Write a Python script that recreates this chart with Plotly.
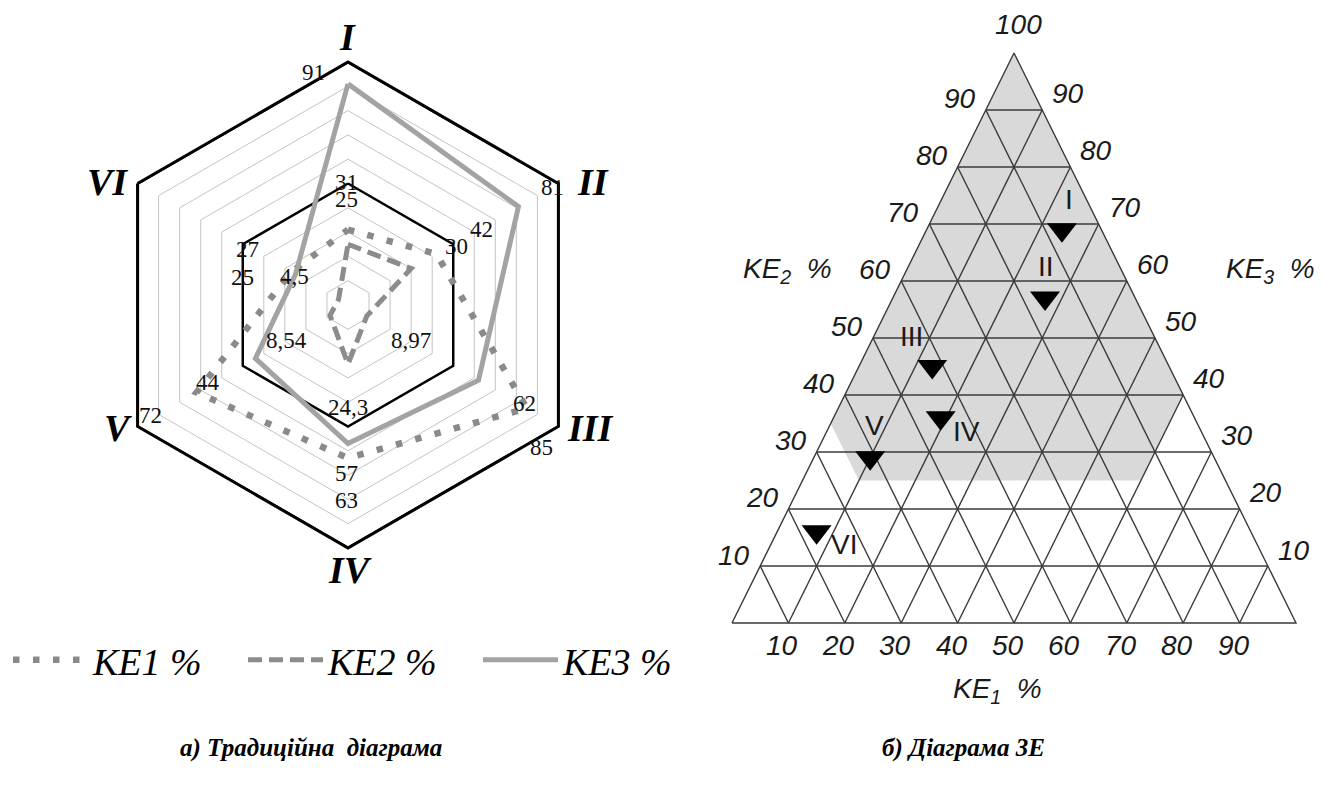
import plotly.graph_objects as go

# ---------------- radar chart data ----------------
objects = ["I", "II", "III", "IV", "V", "VI"]
ke1 = [31, 42, 85, 63, 72, 27]
ke2 = [25, 30, 8.97, 24.3, 8.54, 4.5]
ke3 = [91, 81, 62, 57, 44, 25]
radial_ticks = [10, 20, 30, 40, 50, 60, 70, 80, 90, 100]
major_rings = [50, 100]

# ---------------- 3E triangle data (top / left / right shares, %) ----------------
point_names = ["I", "II", "III", "IV", "V", "VI"]
tern_top = [69, 57, 45, 36, 29, 16]
tern_left = [7, 16, 42, 45, 61, 77]
tern_right = [24, 27, 13, 19, 10, 7]
zone_top = [100, 40, 25, 25, 35]
zone_left = [0, 0, 15, 65, 65]
zone_right = [0, 60, 60, 10, 0]
grid_levels = [10, 20, 30, 40, 50, 60, 70, 80, 90]

W, H = 1323, 787
SERIF = "Liberation Serif, Times New Roman, serif"
NARROW = "Liberation Sans Narrow, Arial Narrow, Liberation Sans, sans-serif"


def paper(x, y):
    return x / W, 1 - y / H


fig = go.Figure()

# ---------------- radar ----------------
CX, CY, R = 348, 305, 243


def closed(seq):
    return list(seq) + [seq[0]]


theta = closed(objects)
for ring in major_rings:
    fig.add_trace(go.Scatterpolar(
        r=[ring] * len(theta), theta=theta, mode="lines",
        line=dict(color="black", width=3 if ring == 100 else 2.5),
        showlegend=False, hoverinfo="skip"))

series = [
    ("KE1 %", ke1, dict(color="#8a8a8a", width=6.5, dash="6.5px,13.5px")),
    ("KE2 %", ke2, dict(color="#8c8c8c", width=5, dash="14px,7px")),
    ("KE3 %", ke3, dict(color="#a3a3a3", width=5)),
]
for name, vals, line in series:
    fig.add_trace(go.Scatterpolar(r=closed(vals), theta=theta, mode="lines",
                                  name=name, line=line, hoverinfo="skip"))

annotations = []
hx = R * 0.866 * 1.02

# category names beside the outer vertices (offsets in hexagon units)
category_spots = {"I": (0.0, -1.13), "II": (1.14, -0.52), "III": (1.13, 0.52),
                  "IV": (0.01, 1.12), "V": (-1.07, 0.52), "VI": (-1.12, -0.52)}
for name in objects:
    ux, uy = category_spots[name]
    x, y = paper(CX + ux * hx, CY + uy * R * 0.975)
    annotations.append(dict(
        x=x, y=y, xref="paper", yref="paper", xanchor="center", yanchor="middle",
        showarrow=False, text=name,
        font=dict(family=SERIF, size=38, color="black", weight="bold", style="italic")))

# data labels: (series, index, position in hexagon units relative to centre)
values = {"KE1": ke1, "KE2": ke2, "KE3": ke3}
label_spots = [
    ("KE3", 0, -0.163, -0.983), ("KE1", 0, -0.005, -0.517), ("KE2", 0, -0.005, -0.445),
    ("KE3", 1, 0.953, -0.496), ("KE1", 1, 0.623, -0.318), ("KE2", 1, 0.507, -0.246),
    ("KE3", 2, 0.823, 0.415), ("KE1", 2, 0.902, 0.602), ("KE2", 2, 0.293, 0.148),
    ("KE2", 3, 0.0, 0.432), ("KE3", 3, -0.005, 0.712), ("KE1", 3, -0.005, 0.826),
    ("KE1", 4, -0.921, 0.466), ("KE3", 4, -0.651, 0.326), ("KE2", 4, -0.288, 0.148),
    ("KE1", 5, -0.470, -0.233), ("KE3", 5, -0.493, -0.114), ("KE2", 5, -0.247, -0.119),
]
for key, idx, ux, uy in label_spots:
    x, y = paper(CX + ux * hx, CY + uy * R * 0.975)
    annotations.append(dict(
        x=x, y=y, xref="paper", yref="paper", xanchor="center", yanchor="middle",
        showarrow=False, text=f"{values[key][idx]:g}".replace(".", ","),
        font=dict(family=SERIF, size=23, color="#111")))

# ---------------- 3E triangle ----------------
TL, TR, TB, TA = 732, 1296, 623, 53


def tern_xy(top, right):
    return (right + top / 2) / 100, top / 100


# shaded zone
zx, zy = zip(*[tern_xy(t, r) for t, r in zip(zone_top, zone_right)])
fig.add_trace(go.Scatter(x=closed(zx), y=closed(zy), mode="lines", fill="toself",
                         fillcolor="#d9d9d9", line=dict(width=0), showlegend=False,
                         hoverinfo="skip"))

# triangular grid
gx, gy = [], []
for v in grid_levels:
    for a, b in ((tern_xy(v, 0), tern_xy(v, 100 - v)),          # constant top share
                 (tern_xy(0, v), tern_xy(100 - v, v)),          # constant right share
                 (tern_xy(0, 100 - v), tern_xy(100 - v, 0))):   # constant left share
        gx += [a[0], b[0], None]
        gy += [a[1], b[1], None]
for p in (tern_xy(0, 0), tern_xy(0, 100), tern_xy(100, 0), tern_xy(0, 0)):
    gx.append(p[0]); gy.append(p[1])
fig.add_trace(go.Scatter(x=gx, y=gy, mode="lines", line=dict(color="#3a3a3a", width=1.4),
                         showlegend=False, hoverinfo="skip"))

# objects
mx, my = zip(*[tern_xy(t, r) for t, r in zip(tern_top, tern_right)])
fig.add_trace(go.Scatter(x=mx, y=my, mode="markers", cliponaxis=False,
                         marker=dict(symbol="triangle-down", size=26, color="black"),
                         showlegend=False, hoverinfo="skip"))

tick_font = dict(family=NARROW, size=28, color="#1a1a1a", style="italic")


def tern_note(x, y, text, dx, dy, font):
    annotations.append(dict(x=x, y=y, xref="x", yref="y", text=text, showarrow=False,
                            xanchor="center", yanchor="middle",
                            xshift=dx, yshift=dy, font=font))


for v in grid_levels:
    tern_note(*tern_xy(v, 0), str(v), -26, 11, tick_font)
    tern_note(*tern_xy(v, 100 - v), str(v), 26, 16, tick_font)
    tern_note(*tern_xy(0, v), str(v), -6, -22, tick_font)
tern_note(*tern_xy(100, 0), "100", 4, 28, tick_font)

name_shift = {"I": (7, 30), "II": (1, 32), "III": (-21, 30),
              "IV": (26, -14), "V": (4, 32), "VI": (27, -13)}
for name, x, y in zip(point_names, mx, my):
    tern_note(x, y, name, *name_shift[name],
              dict(family=NARROW, size=28, color="#1a1a1a"))

for text, px, py in [("KE<sub>2</sub>\u00a0\u00a0%", 787, 270),
                     ("KE<sub>3</sub>\u00a0\u00a0%", 1270, 270),
                     ("KE<sub>1</sub>\u00a0\u00a0%", 997, 690)]:
    x, y = paper(px, py)
    annotations.append(dict(x=x, y=y, xref="paper", yref="paper", text=text,
                            xanchor="center", yanchor="middle",
                            showarrow=False, font=tick_font))

# captions
cap_font = dict(family=SERIF, size=25, color="black", weight="bold", style="italic")
for text, px in [("а) Традиційна\u00a0\u00a0діаграма", 178), ("б) Діаграма 3Е", 880)]:
    x, y = paper(px, 748)
    annotations.append(dict(x=x, y=y, xref="paper", yref="paper", text=text,
                            xanchor="left", yanchor="middle", showarrow=False,
                            font=cap_font))

x_lo, x_hi = -0.05, 1.04
y_lo, y_hi = -0.03, 1.03
tw, th = TR - TL, TB - TA

fig.update_layout(
    width=W, height=H, margin=dict(l=0, r=0, t=0, b=0),
    paper_bgcolor="white", plot_bgcolor="rgba(0,0,0,0)",
    showlegend=True,
    polar=dict(
        domain=dict(x=[(CX - R) / W, (CX + R) / W],
                    y=[1 - (CY + R) / H, 1 - (CY - R) / H]),
        gridshape="linear", bgcolor="rgba(0,0,0,0)",
        radialaxis=dict(range=[0, 100], tickvals=radial_ticks, showticklabels=False,
                        ticks="", showline=False, gridcolor="#c4c4c4", gridwidth=1),
        angularaxis=dict(type="category", categoryarray=objects, direction="clockwise",
                         rotation=90, showgrid=False, showline=True, linecolor="black",
                         linewidth=3, ticks="", showticklabels=False),
    ),
    xaxis=dict(domain=[(TL + x_lo * tw) / W, (TL + x_hi * tw) / W], range=[x_lo, x_hi],
               visible=False, fixedrange=True),
    yaxis=dict(domain=[1 - (TB - y_lo * th) / H, 1 - (TB - y_hi * th) / H],
               range=[y_lo, y_hi], visible=False, fixedrange=True),
    legend=dict(orientation="h", x=8 / W, xanchor="left", y=1 - 660 / H, yanchor="middle",
                font=dict(family=SERIF, size=38, color="black", style="italic"),
                itemwidth=75, entrywidth=145, bgcolor="rgba(0,0,0,0)",
                traceorder="normal"),
    annotations=annotations,
)

fig.write_html("out.html")
